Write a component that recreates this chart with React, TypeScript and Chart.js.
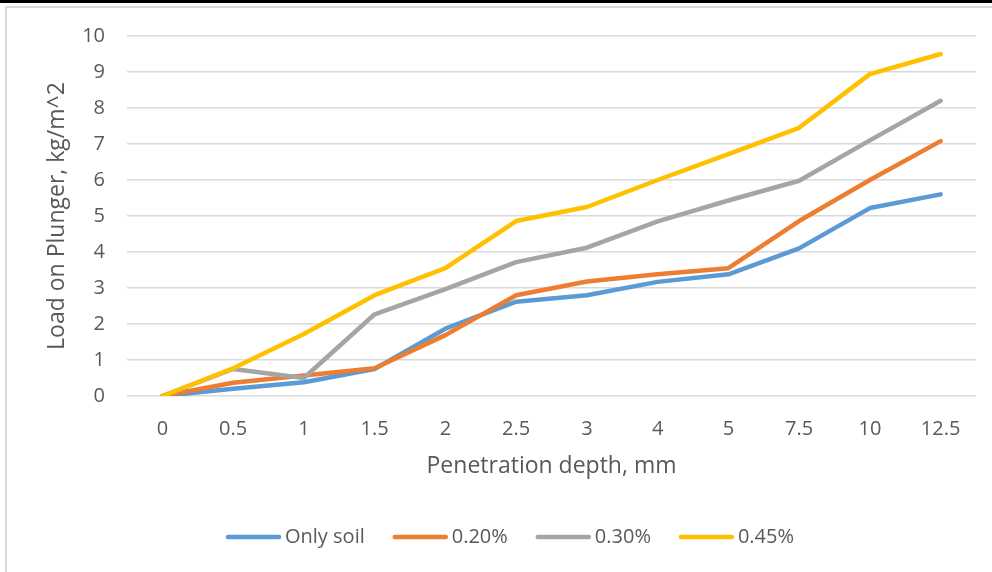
import React, { useEffect, useRef } from "react";
import { Chart, registerables } from "chart.js";

Chart.register(...registerables);

// ---- data ----
const categories = ["0", "0.5", "1", "1.5", "2", "2.5", "3", "4", "5", "7.5", "10", "12.5"];
const seriesNames = ["Only soil", "0.20%", "0.30%", "0.45%"];
const onlySoil = [0, 0.2, 0.38, 0.75, 1.87, 2.62, 2.8, 3.17, 3.38, 4.1, 5.22, 5.6];
const pct020 = [0, 0.37, 0.57, 0.77, 1.69, 2.8, 3.18, 3.38, 3.55, 4.86, 6.0, 7.08];
const pct030 = [0, 0.75, 0.5, 2.27, 2.97, 3.72, 4.12, 4.85, 5.43, 5.98, 7.1, 8.2];
const pct045 = [0, 0.77, 1.72, 2.8, 3.55, 4.86, 5.25, 6.0, 6.72, 7.45, 8.94, 9.5];
const seriesColors = ["#5B9BD5", "#ED7D31", "#A5A5A5", "#FFC000"];
const yTickMin = 0;
const yTickMax = 10;
const yTickStep = 1;

const FONT = '"Open Sans", "Noto Sans", sans-serif';
const TEXT = "#595959";

const framePlugin = {
  id: "frame",
  beforeDraw(chart: any) {
    const { ctx, width, height } = chart;
    ctx.save();
    ctx.fillStyle = "#ffffff";
    ctx.fillRect(0, 0, width, height);
    ctx.fillStyle = "#000000";
    ctx.fillRect(0, 0, width, 3);
    ctx.strokeStyle = "#d9d9d9";
    ctx.lineWidth = 2;
    ctx.beginPath();
    ctx.moveTo(6, height);
    ctx.lineTo(6, 7);
    ctx.lineTo(width, 7);
    ctx.stroke();
    ctx.restore();
  },
};

const legendPlugin = {
  id: "customLegend",
  afterDraw(chart: any) {
    const ctx = chart.ctx;
    ctx.save();
    ctx.font = `20px ${FONT}`;
    const lineLen = 55;
    const gapText = 4;
    const gapItem = 28;
    const items = chart.data.datasets.map((d: any) => ({
      label: d.label,
      color: d.borderColor,
      w: ctx.measureText(d.label).width,
    }));
    const total =
      items.reduce((s: number, it: any) => s + lineLen + gapText + it.w, 0) +
      gapItem * (items.length - 1);
    let x = 510 - total / 2;
    const y = 537;
    ctx.textBaseline = "middle";
    ctx.textAlign = "left";
    for (const it of items) {
      ctx.strokeStyle = it.color;
      ctx.lineWidth = 4.5;
      ctx.lineCap = "round";
      ctx.beginPath();
      ctx.moveTo(x + 2, y);
      ctx.lineTo(x + lineLen - 2, y);
      ctx.stroke();
      ctx.fillStyle = TEXT;
      ctx.fillText(it.label, x + lineLen + gapText, y);
      x += lineLen + gapText + it.w + gapItem;
    }
    ctx.restore();
  },
};

export default function App() {
  const ref = useRef<HTMLCanvasElement | null>(null);

  useEffect(() => {
    if (!ref.current) return;
    const values = [onlySoil, pct020, pct030, pct045];
    const chart = new Chart(ref.current, {
      type: "line",
      data: {
        labels: categories,
        datasets: values.map((v, i) => ({
          label: seriesNames[i],
          data: v,
          borderColor: seriesColors[i],
          backgroundColor: seriesColors[i],
          borderWidth: 4.5,
          pointRadius: 0,
          tension: 0,
          fill: false,
          order: values.length - i,
          borderCapStyle: "round",
          borderJoinStyle: "round",
        })),
      },
      options: {
        animation: false,
        responsive: false,
        maintainAspectRatio: false,
        devicePixelRatio: 1,
        layout: { padding: { top: 36, right: 16, left: 0, bottom: 0 } },
        plugins: {
          legend: { display: false },
          tooltip: { enabled: false },
        },
        scales: {
          x: {
            type: "category",
            offset: true,
            grid: { display: false, drawTicks: false },
            border: { display: false },
            ticks: {
              padding: 21,
              color: TEXT,
              font: { family: FONT, size: 20 },
              maxRotation: 0,
              autoSkip: false,
            },
            title: {
              display: true,
              text: "Penetration depth, mm",
              color: TEXT,
              font: { family: FONT, size: 23 },
              padding: { top: 0, bottom: 92 },
            },
            afterFit: (s: any) => {
              s.height = 176;
            },
          },
          y: {
            min: yTickMin,
            max: yTickMax,
            ticks: {
              stepSize: yTickStep,
              padding: 22,
              color: TEXT,
              font: { family: FONT, size: 20 },
            },
            grid: { color: "#d9d9d9", lineWidth: 1.5, drawTicks: false },
            border: { display: false },
            title: {
              display: true,
              text: "Load on Plunger, kg/m^2",
              color: TEXT,
              font: { family: FONT, size: 23 },
              padding: { top: 44, bottom: 0 },
            },
            afterFit: (s: any) => {
              s.width = 127;
            },
          },
        },
      },
      plugins: [framePlugin, legendPlugin],
    });
    return () => chart.destroy();
  }, []);

  return (
    <div style={{ position: "absolute", left: 0, top: 0, width: 992, height: 572 }}>
      <canvas ref={ref} width={992} height={572} style={{ display: "block", width: 992, height: 572 }} />
    </div>
  );
}
